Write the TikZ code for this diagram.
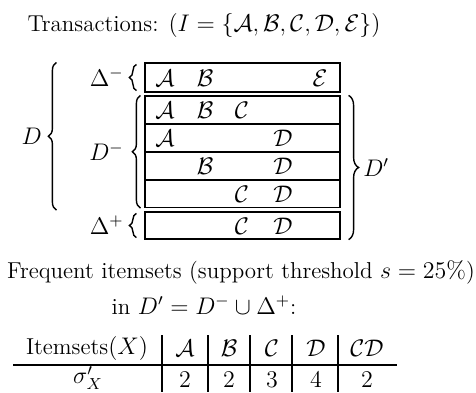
\documentclass[tikz,border=0pt]{standalone}
\usepackage{amsmath}
\usetikzlibrary{decorations.pathreplacing}
\tikzset{
  every node/.style={font=\fontsize{11.5}{13.5}\selectfont, inner sep=1pt},
  rowbox/.style={draw, line width=0.6pt, minimum width=97.5pt, minimum height=14pt, inner sep=0pt},
  bracel/.style={decorate, line width=0.7pt, decoration={brace, amplitude=3.5pt}},
}
\begin{document}
\begin{tikzpicture}[x=0.5pt,y=-0.5pt]
\useasboundingbox (0,0) rectangle (476,392);
\node (title) at (204,25) {Transactions: $(I=\{\mathcal{A},\mathcal{B},\mathcal{C},\mathcal{D},\mathcal{E}\})$};
% the transactions
\node[rowbox, minimum height=14.5pt] (dm) at (242.5,77.5) {};
\node[rowbox] (r1) at (242.5,110) {};
\node[rowbox] (r2) at (242.5,138) {};
\node[rowbox] (r3) at (242.5,166) {};
\node[rowbox] (r4) at (242.5,193.5) {};
\node[rowbox, minimum height=13.5pt] (dp) at (242.5,225.5) {};
\foreach \r/\y/\items in {dm/78/{165/A,205/B,320/E}, r1/110/{165/A,205/B,242/C},
    r2/138/{165/A,283/D}, r3/166/{205/B,283/D}, r4/194/{242/C,283/D}, dp/226/{242/C,283/D}}
  \foreach \x/\l in \items
    \node (\r-\l) at (\x,\y) {$\mathcal{\l}$};
% braces
\draw[bracel] ([xshift=-4pt,yshift=1pt]dm.south west) -- ([xshift=-4pt,yshift=-1pt]dm.north west)
  node[midway, left=5pt] (dmlab) {$\Delta^-$};
\draw[bracel, decoration={amplitude=4pt}] ([xshift=-2pt]r4.south west) -- ([xshift=-2pt]r1.north west)
  node[midway, left=7pt] (rlab) {$D^-$};
\draw[bracel] ([xshift=-4pt,yshift=1pt]dp.south west) -- ([xshift=-4pt,yshift=-1pt]dp.north west)
  node[midway, left=5pt] (dplab) {$\Delta^+$};
\draw[bracel, decoration={amplitude=4pt}] ([xshift=-44pt,yshift=-1pt]r4.south west) -- ([xshift=-44pt]dm.north west)
  node[midway, left=6pt] (dlab) {$D$};
\draw[bracel, decoration={amplitude=5pt}] ([xshift=4pt]r1.north east) -- ([xshift=4pt]dp.south east)
  node[midway, right=6pt] (dnew) {$D'$};
% frequent itemsets
\node (freq) at (241,272) {Frequent itemsets (support threshold $s=25\%$)};
\node (inD) at (204,305) {in $D'=D^-\cup\Delta^+$:};
\node (hX) at (87,348) {Itemsets$(X)$};
\node (vX) at (88,378) {$\sigma'_X$};
\foreach \x/\l/\v [count=\i] in {185/\mathcal{A}/2, 229/\mathcal{B}/2, 272/\mathcal{C}/3, 316/\mathcal{D}/4, 367/\mathcal{C}\mathcal{D}/2} {
  \node (h\i) at (\x,348) {$\l$};
  \node (v\i) at (\x,380) {$\v$};
}
\foreach \x in {162,208,250,292,338}
  \draw[line width=0.6pt] (\x,335) -- (\x,392);
\draw[line width=0.8pt] (13,365) -- (397,365);
\end{tikzpicture}
\end{document}
